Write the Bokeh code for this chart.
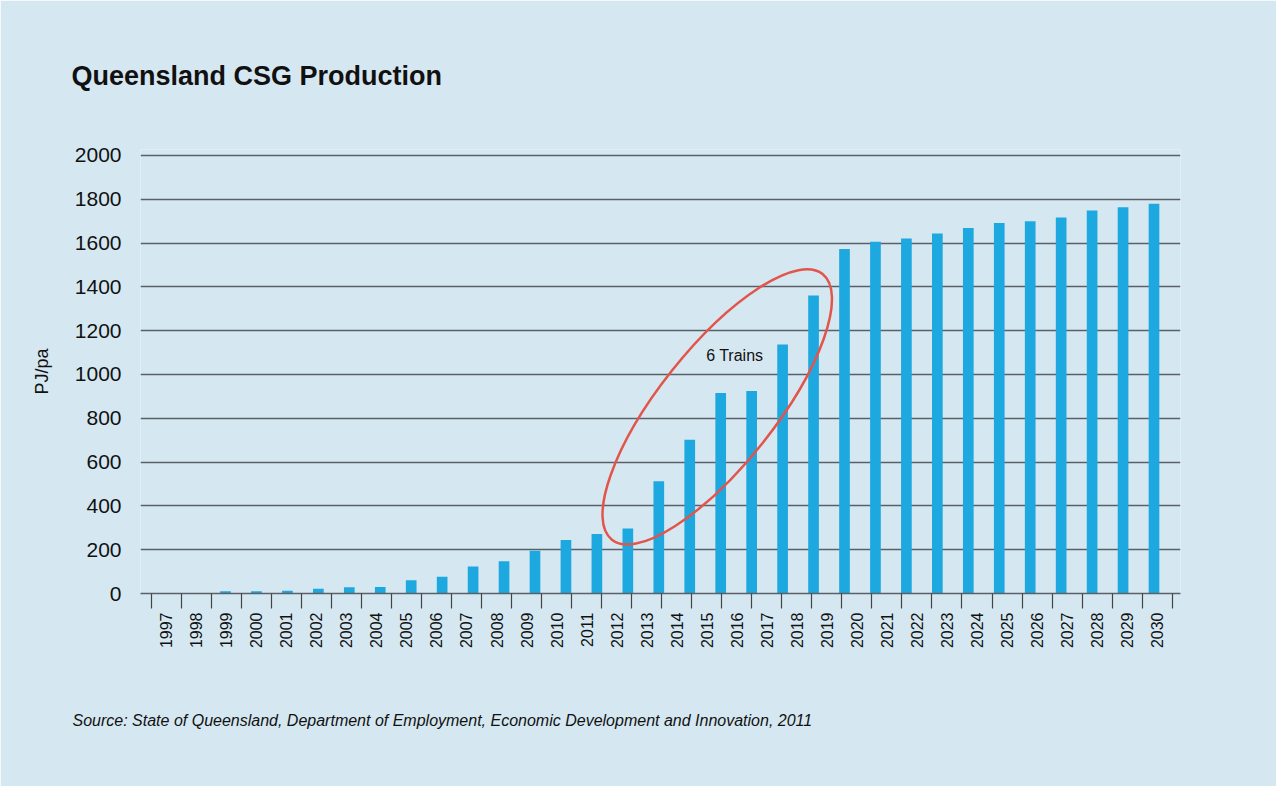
import math
from bokeh.plotting import figure
from bokeh.models import Range1d, FixedTicker, Title
from bokeh.embed import file_html
from bokeh.resources import INLINE
from bokeh.core.properties import value

# ---- data ----
title_text = "Queensland CSG Production"
source_text = "Source: State of Queensland, Department of Employment, Economic Development and Innovation, 2011"
y_label = "PJ/pa"
years = [str(y) for y in range(1997, 2031)]          # axis category labels (34)
production = [0, 0, 10, 10, 13, 22, 28, 30, 61, 76, 123,
              147, 195, 244, 272, 297, 512, 702, 915, 924, 1137, 1360,
              1573, 1606, 1621, 1644, 1669, 1692, 1700, 1717, 1748, 1763, 1779]  # bars (33)
y_ticks = [0, 200, 400, 600, 800, 1000, 1200, 1400, 1600, 1800, 2000]
note_text = "6 Trains"

BG = "#D5E8F2"
BAR = "#1DA8E0"
GRID = "#5B6068"
FONT = "Liberation Sans"

p = figure(width=1276, height=786, output_backend="svg", toolbar_location=None,
           x_range=Range1d(-0.856, 33.777), y_range=Range1d(0, 2027),
           min_border_left=140, min_border_right=96, min_border_top=148, min_border_bottom=191)
p.background_fill_color = BG
p.border_fill_color = BG
p.outline_line_color = None

# bars have their own (slightly wider) spacing, as in the source chart
p.extra_x_ranges = {"bars": Range1d(-0.746, 32.856)}
bar_idx = list(range(len(production)))
p.vbar(x=bar_idx, top=production, width=0.345, x_range_name="bars",
       fill_color=BAR, line_color=None)

# x axis
xa = p.xaxis[0]
xa.ticker = FixedTicker(ticks=list(range(len(years))),
                        minor_ticks=[i - 0.5 for i in range(len(years) + 1)])
xa.major_label_overrides = {i: y for i, y in enumerate(years)}
xa.major_label_orientation = math.pi / 2
xa.major_tick_line_color = None
xa.major_tick_out = 15
xa.major_tick_in = 0
xa.minor_tick_out = 15
xa.minor_tick_in = 0
xa.minor_tick_line_color = "#444444"
xa.minor_tick_line_width = 1.2
xa.axis_line_color = GRID
xa.axis_line_width = 1.5
xa.major_label_standoff = 4
xa.major_label_text_font = FONT
xa.major_label_text_font_size = "16px"
xa.major_label_text_color = "#111111"

# y axis
ya = p.yaxis[0]
ya.ticker = FixedTicker(ticks=y_ticks)
ya.axis_line_color = None
ya.major_tick_line_color = None
ya.minor_tick_line_color = None
ya.major_tick_out = 0
ya.major_tick_in = 0
ya.major_label_standoff = 19
ya.major_label_text_font = FONT
ya.major_label_text_font_size = "21px"
ya.major_label_text_color = "#111111"
ya.axis_label = y_label
ya.axis_label_text_font = FONT
ya.axis_label_text_font_size = "18px"
ya.axis_label_text_font_style = "normal"
ya.axis_label_text_color = "#111111"
ya.axis_label_standoff = 20

p.xgrid.grid_line_color = None
p.ygrid.ticker = FixedTicker(ticks=y_ticks)
p.ygrid.grid_line_color = GRID
p.ygrid.grid_line_width = 1.5

# annotation ellipse and note
p.ellipse(x=[18.35], y=[852], width=[339], height=[116], angle=0.90,
          width_units="screen", height_units="screen",
          fill_color=None, line_color="#E2554B", line_width=2.5)
p.text(x=[17.98], y=[1085], text=[note_text], text_font=value(FONT),
       text_font_size="16px", text_align="left", text_baseline="middle",
       text_color="#111111")

# titles
p.title = Title(text=title_text, align="left", offset=-69, standoff=117,
                text_font=FONT, text_font_size="27px", text_font_style="bold",
                text_color="#111111")
p.add_layout(Title(text=source_text, align="left", offset=-68, standoff=116,
                   text_font=FONT, text_font_size="16px", text_font_style="italic",
                   text_color="#111111"), "below")

open("out.html", "w").write(file_html(p, INLINE))
